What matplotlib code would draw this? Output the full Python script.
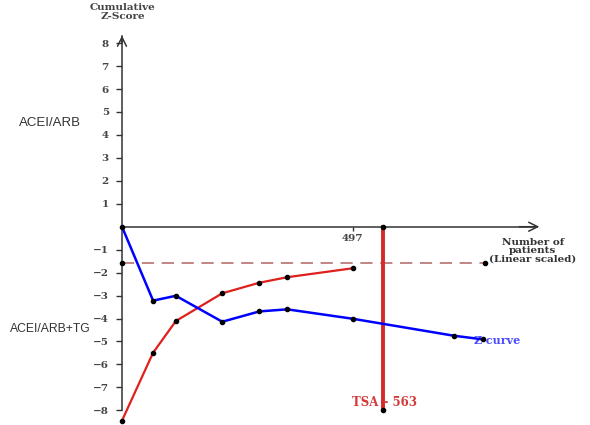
import matplotlib.pyplot as plt

# ===================== data =====================
z_patients = [0, 67, 116, 216, 296, 356, 497, 715, 778]
z_curve = [0, -3.22, -3.01, -4.14, -3.69, -3.60, -4.01, -4.75, -4.91]

bound_patients = [0, 67, 116, 216, 296, 356, 497]
bound_curve = [-8.45, -5.49, -4.11, -2.90, -2.44, -2.20, -1.81]

conv_patients = [0, 782]
conv_level = [-1.6, -1.6]

tsa_n = 563
tsa_span = [0, -8]

y_ticks = [-8, -7, -6, -5, -4, -3, -2, -1, 1, 2, 3, 4, 5, 6, 7, 8]
x_ticks = [497]

serif = 'DejaVu Serif'

fig = plt.figure(figsize=(5.9, 4.25), dpi=100)
ax = fig.add_axes([0, 0, 1, 1])
ax.set_xlim(-262.8, 1008.2)
ax.set_ylim(-8.64, 9.88)

# axes through the origin
for s in ['top', 'right']:
    ax.spines[s].set_visible(False)
ax.spines['left'].set_position(('data', 0))
ax.spines['bottom'].set_position(('data', 0))
ax.spines['left'].set_bounds(-8, 8.3)
ax.spines['bottom'].set_bounds(0, 895)
for s in ['left', 'bottom']:
    ax.spines[s].set_color('#333333')
    ax.spines[s].set_linewidth(1.1)
ax.set_yticks(y_ticks)
ax.set_yticklabels([str(t).replace('-', '\u2212') for t in y_ticks], fontfamily=serif,
                   fontweight='bold', fontsize=7.5, color='#444444')
ax.set_xticks(x_ticks)
ax.set_xticklabels([str(t) for t in x_ticks], fontfamily=serif, fontweight='bold', fontsize=7.5, color='#444444')
ax.tick_params(axis='y', direction='out', length=4.5, width=1, pad=5, color='#333333')
ax.tick_params(axis='x', direction='out', length=3, width=1, pad=2, color='#333333')
ax.patch.set_visible(False)

# arrow heads
ax.annotate('', xy=(0, 8.45), xytext=(0, 7.9),
            arrowprops=dict(arrowstyle='->', color='#333333', lw=1.1, mutation_scale=16))
ax.annotate('', xy=(905, 0), xytext=(850, 0),
            arrowprops=dict(arrowstyle='->', color='#333333', lw=1.1, mutation_scale=16))

# conventional boundary (dashed)
ax.plot(conv_patients, conv_level, color='#b06464', lw=1.1, dashes=(8, 5), zorder=2)
ax.plot(conv_patients, conv_level, 'o', color='black', ms=3, zorder=5)

# TSA required information size
ax.plot([tsa_n, tsa_n], tsa_span, color='#d42a2a', lw=2.8, zorder=3)
ax.plot([tsa_n, tsa_n], tsa_span, 'o', color='black', ms=3, zorder=5)

# monitoring boundary
ax.plot(bound_patients, bound_curve, color='#e0201c', lw=1.6, marker='o', ms=3,
        mfc='black', mec='black', zorder=4)

# cumulative z-curve
ax.plot(z_patients, z_curve, color='#0000ff', lw=1.8, marker='o', ms=3,
        mfc='black', mec='black', zorder=4)

# labels
ax.text(2, 9.35, 'Cumulative\nZ-Score', fontfamily=serif, fontweight='bold', fontsize=7.5,
        color='#444444', ha='center', va='center', linespacing=0.95)
ax.text(885, -1.05, 'Number of\npatients\n(Linear scaled)', fontfamily=serif, fontweight='bold',
        fontsize=7.5, color='#333333', ha='center', va='center', linespacing=0.9)
ax.text(757, -4.94, 'Z-curve', fontfamily=serif, fontweight='bold', fontsize=8,
        color='#4a4aff', ha='left', va='center')
ax.text(tsa_n + 2, -7.64, 'TSA – 563', fontfamily=serif, fontweight='bold', fontsize=8.5,
        color='#d43a3a', ha='center', va='center')

ax.text(49.5 / 590, 1 - 123 / 425, 'ACEI/ARB', transform=ax.transAxes, fontfamily='Liberation Sans',
        fontsize=9.5, color='#333333', ha='center', va='center')
ax.text(50.5 / 590, 1 - 329 / 425, 'ACEI/ARB+TG', transform=ax.transAxes, fontfamily='Liberation Sans',
        fontsize=8.7, color='#333333', ha='center', va='center')

fig.savefig('out.png', dpi=100, facecolor='white')
